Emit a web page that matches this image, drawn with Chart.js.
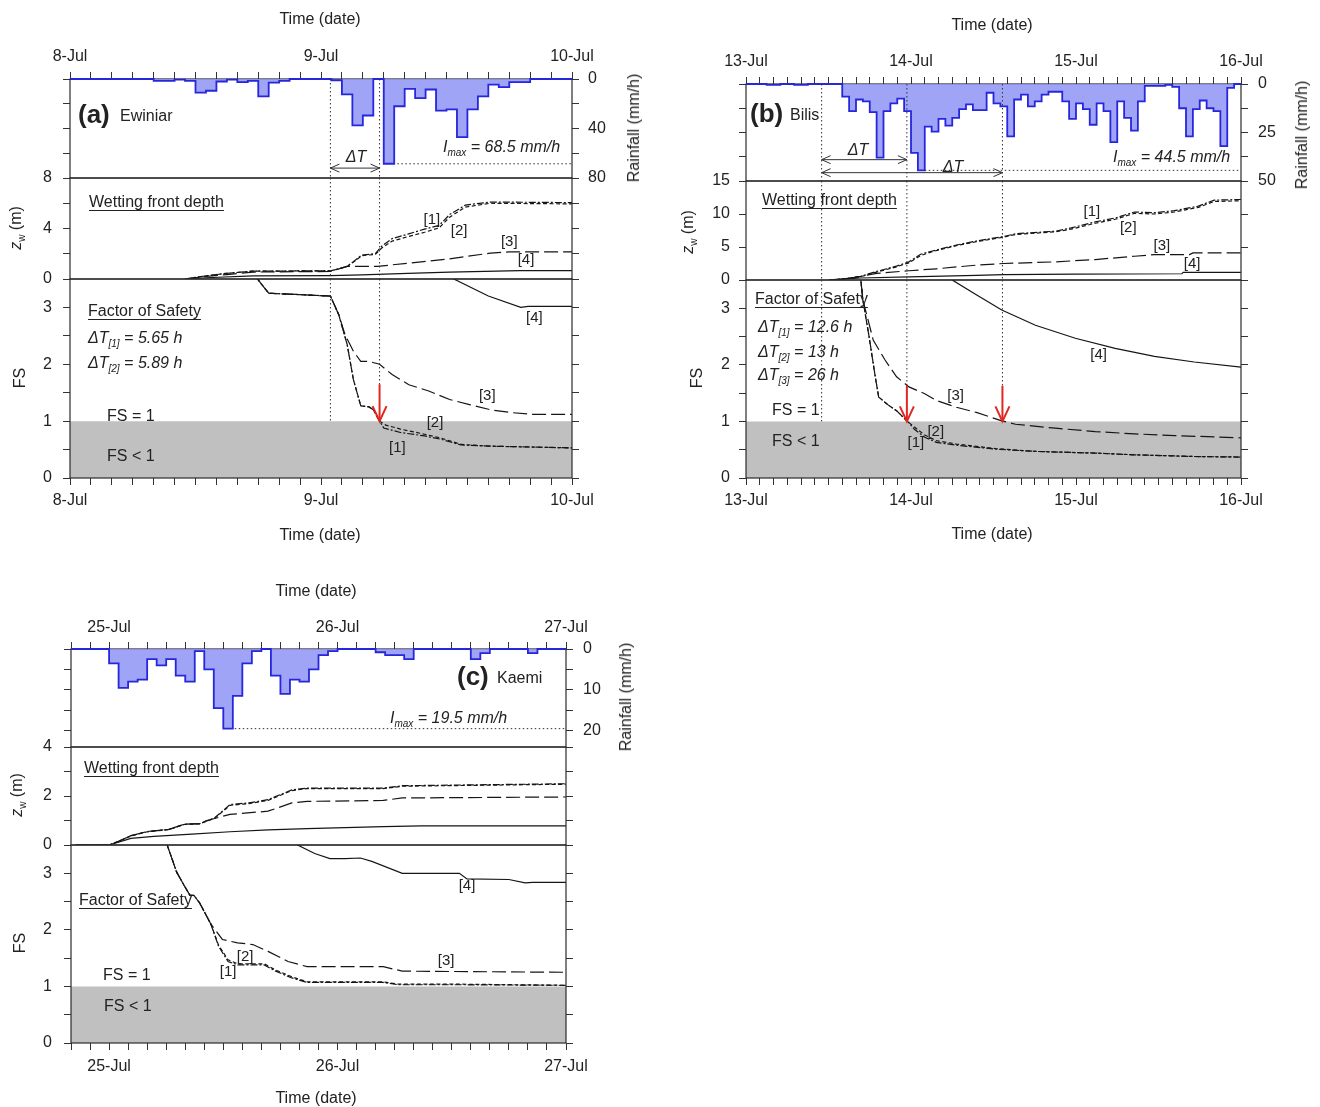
<!DOCTYPE html>
<html>
<head>
<meta charset="utf-8">
<title>Rainfall, wetting front depth and factor of safety</title>
<script src="https://cdn.jsdelivr.net/npm/chart.js@4.4.1/dist/chart.umd.min.js"></script>
<style>
  html, body { margin: 0; padding: 0; background: #fff; }
  body { position: relative; width: 1320px; height: 1107px; overflow: hidden; }
  canvas { position: absolute; }
  .txt { position: absolute; font: 16px "Liberation Sans", Arial, sans-serif; color: #222; white-space: nowrap; line-height: 1; }
  .txt sub { font-size: 10px; vertical-align: -4px; line-height: 0; }
  .it { font-style: italic; }
  .ul { text-decoration: underline; text-underline-offset: 3px; }
  .big { font-size: 26px; font-weight: bold; }
</style>
</head>
<body>
<script>
// ---------- data ----------
const daysA = ['8-Jul', '9-Jul', '10-Jul'];
const daysB = ['13-Jul', '14-Jul', '15-Jul', '16-Jul'];
const daysC = ['25-Jul', '26-Jul', '27-Jul'];

// hourly rainfall (mm/h); index 0 = first hour of the first day
const rainA = [0, 0, 0, 0, 0, 0, 0, 0, 1.5, 1.5, 0.5, 1.5, 11, 9.5, 2, 0.5, 2.5, 1.5, 14, 3, 1.5, 0, 0, 0,
               0, 1, 12.5, 37.5, 29.5, 0, 68.5, 22, 8, 15.5, 8.5, 25.5, 24.5, 47, 24.5, 14, 4.5, 6.5, 2.5, 2.5, 0, 0, 0, 0];
const rainB = [0, 0, 0, 0.5, 0.5, 0, 0, 0.5, 0.5, 0, 0, 0, 0, 0, 6.5, 14, 8, 9, 14.5, 38, 14, 10, 7.5, 14,
               35.5, 44.5, 22, 24.5, 18, 21.5, 17.5, 13, 10.5, 13.5, 13.5, 4.5, 10, 11.5, 27, 8, 5.5, 11.5, 9, 5.5, 4, 4, 9, 18,
               10, 13, 21, 10, 14, 30, 9, 17.5, 24, 9, 1, 1, 1, 0.5, 1.5, 12.5, 27, 13, 8.5, 12.5, 14, 32, 2, 0];
// panel (c) starts 4 h before 25-Jul
const rainStartC = -4;
const rainC = [0, 0, 0, 0,
               3.5, 9.5, 8, 7.5, 2.5, 4, 2.5, 6.5, 8, 0.5, 5, 14.5, 19.5, 11.5, 3.5, 0.5, 0, 6.5, 11, 7.5, 8, 5, 1.5, 0.5,
               0, 0, 0, 0, 0.8, 1.5, 1.5, 2.5, 0, 0, 0, 0, 0, 0, 2.5, 1, 0, 0, 0, 0, 1, 0, 0, 0];
const imaxA = 68.5, imaxB = 44.5, imaxC = 19.5;

// axis ticks
const rainTicksA = [0, 20, 40, 60, 80];        const rainLabelsA = ['0', '', '40', '', '80'];
const rainTicksB = [0, 12.5, 25, 37.5, 50];    const rainLabelsB = ['0', '', '25', '', '50'];
const rainTicksC = [0, 5, 10, 15, 20];         const rainLabelsC = ['0', '', '10', '', '20'];
const wetTicksA = [0, 2, 4, 6, 8];             const wetLabelsA = ['0', '', '4', '', '8'];
const wetTicksB = [0, 2.5, 5, 7.5, 10, 12.5, 15]; const wetLabelsB = ['0', '', '5', '', '10', '', '15'];
const wetTicksC = [0, 1, 2, 3, 4];             const wetLabelsC = ['0', '', '2', '', '4'];
const fsTicks = [0, 0.5, 1, 1.5, 2, 2.5, 3];   const fsLabels = ['0', '', '1', '', '2', '', '3'];
const fsLimit = 1;

// wetting front depth zw (m): [hour, depth]
const wetA1 = [[11,0],[13,0.25],[15,0.45],[17.5,0.62],[24.9,0.65],[25.7,0.8],[26.5,1.0],[27.3,1.5],[27.9,1.9],[29.2,2.0],[29.8,2.6],[30.8,3.2],[32.3,3.55],[33.9,3.95],[35.3,4.25],[36.3,5.1],[37.8,5.85],[40.2,6.1],[48,6.05]];
const wetA2 = [[11,0],[13,0.25],[15,0.45],[17.5,0.62],[24.9,0.65],[25.7,0.8],[26.5,1.0],[27.3,1.45],[27.9,1.85],[29.2,1.95],[29.8,2.45],[30.8,3.0],[32.3,3.35],[33.9,3.7],[35.3,4.05],[36.3,4.9],[37.8,5.7],[40.2,6.0],[48,5.95]];
const wetA3 = [[11,0],[13,0.2],[15,0.35],[17.5,0.55],[24.9,0.6],[26.5,1.0],[29.4,1.0],[32.3,1.25],[36.3,1.6],[40.2,2.05],[42,2.15],[48,2.15]];
const wetA4 = [[11,0],[13,0.1],[17.5,0.25],[24.9,0.27],[27.9,0.32],[32.3,0.45],[36.3,0.55],[43,0.67],[48,0.67]];
const wetB1 = [[12.1,0],[14.5,0.2],[16.7,0.56],[19,1.3],[21.9,2.1],[23.7,2.75],[25.4,3.9],[27.1,4.4],[30.6,5.3],[33.5,5.9],[37.5,6.6],[39.2,7.0],[45,7.4],[47.3,7.9],[50.8,8.8],[53.7,9.4],[56.5,10.3],[59.4,10.2],[62.3,10.5],[65.8,11.2],[68.1,12.1],[72,12.2]];
const wetB2 = [[12.1,0],[14.5,0.2],[16.7,0.5],[19,1.2],[21.9,2.0],[23.7,2.6],[25.4,3.7],[27.1,4.3],[30.6,5.2],[33.5,5.8],[37.5,6.5],[39.2,6.9],[45,7.3],[47.3,7.7],[50.8,8.6],[53.7,9.2],[56.5,10.1],[59.4,10.0],[62.3,10.3],[65.8,11.0],[68.1,11.9],[72,12.0]];
const wetB3 = [[12.1,0],[14.5,0.2],[16.7,0.56],[19,1.0],[23.7,1.4],[27.7,1.7],[33.5,2.25],[37.5,2.5],[45,2.75],[50.8,3.1],[56.5,3.6],[59.4,3.85],[64.5,3.85],[65,4.1],[72,4.1]];
const wetB4 = [[12.1,0],[14.5,0.15],[16.7,0.3],[23.7,0.46],[33.5,0.7],[37.5,0.8],[47.9,0.9],[63.4,0.95],[63.6,1.15],[72,1.15]];
const wetC1 = [[-3.5,0],[0,0],[1,0.15],[2.3,0.38],[3.9,0.54],[6.3,0.64],[7.9,0.85],[9.5,0.87],[11.1,1.11],[12.7,1.65],[14.7,1.72],[16.7,1.85],[19.2,2.25],[20.8,2.32],[28.8,2.32],[30.8,2.42],[48,2.5]];
const wetC2 = [[-3.5,0],[0,0],[1,0.15],[2.3,0.37],[3.9,0.53],[6.3,0.63],[7.9,0.84],[9.5,0.86],[11.1,1.09],[12.7,1.62],[14.7,1.69],[16.7,1.82],[19.2,2.22],[20.8,2.3],[28.8,2.3],[30.8,2.4],[48,2.48]];
const wetC3 = [[-3.5,0],[0,0],[1,0.15],[2.3,0.38],[3.9,0.54],[6.3,0.64],[7.9,0.85],[9.5,0.87],[10.3,1.0],[12.7,1.25],[16.7,1.38],[19.2,1.72],[20.8,1.78],[28.8,1.82],[30.8,1.92],[48,1.96]];
const wetC4 = [[-3.5,0],[0,0],[2.3,0.27],[4.7,0.35],[8.7,0.44],[12.7,0.54],[16.7,0.62],[20.8,0.67],[28.8,0.75],[32.8,0.78],[48,0.78]];

// factor of safety: [hour, FS]
const fsA1 = [[17.5,3.6],[19,3.25],[24.9,3.2],[25.7,2.87],[26.5,2.35],[27.1,1.73],[27.8,1.27],[28.6,1.25],[29.0,1.2],[29.6,1.0],[30.0,0.88],[31.6,0.8],[33.9,0.74],[35.5,0.68],[37.4,0.58],[40.2,0.56],[48,0.53]];
const fsA2 = [[17.5,3.6],[19,3.25],[24.9,3.2],[25.7,2.87],[26.5,2.35],[27.1,1.73],[27.8,1.27],[28.6,1.25],[29.0,1.2],[29.6,1.0],[30.2,0.93],[31.6,0.86],[33.9,0.77],[35.5,0.7],[37.4,0.59],[40.2,0.56],[48,0.53]];
const fsA3 = [[17.5,3.6],[19,3.25],[24.9,3.2],[25.7,2.87],[26.3,2.52],[27.1,2.23],[27.8,2.05],[28.6,2.05],[29.6,2.0],[30.8,1.82],[32.4,1.64],[34.3,1.53],[36.3,1.38],[38.2,1.29],[40.2,1.2],[42.2,1.15],[44.1,1.12],[48,1.12]];
const fsA4 = [[35.5,3.7],[36.7,3.5],[40,3.2],[43.1,3.0],[43.8,3.02],[48,3.02]];
const fsB1 = [[16.2,3.8],[16.7,3.5],[17.0,3.15],[17.9,2.5],[18.8,1.79],[19.3,1.43],[20.8,1.28],[21.9,1.19],[22.9,1.07],[23.5,1.0],[24.5,0.86],[26,0.72],[27.7,0.63],[30.6,0.58],[36.3,0.51],[42.1,0.47],[50.8,0.44],[56.5,0.41],[65.2,0.38],[72,0.37]];
const fsB2 = [[16.2,3.8],[16.7,3.5],[17.0,3.15],[17.9,2.5],[18.8,1.79],[19.3,1.43],[20.8,1.28],[21.9,1.19],[22.9,1.07],[23.5,1.0],[24.5,0.9],[26,0.76],[27.7,0.66],[30.6,0.6],[36.3,0.52],[42.1,0.47],[50.8,0.44],[56.5,0.41],[65.2,0.38],[72,0.37]];
const fsB3 = [[16.2,3.8],[16.7,3.5],[17.0,3.15],[18.5,2.44],[20.2,2.09],[21.9,1.79],[23.7,1.61],[26,1.49],[27.7,1.37],[30.6,1.25],[33.5,1.16],[37.2,1.01],[39.2,0.95],[45,0.88],[50.8,0.82],[56.5,0.78],[62.3,0.75],[72,0.71]];
const fsB4 = [[29.5,3.6],[30,3.5],[33.5,3.24],[37.2,2.97],[42.1,2.7],[47.9,2.47],[53.7,2.29],[59.4,2.15],[65.2,2.05],[72,1.96]];
const fsC1 = [[5.8,3.7],[6.1,3.5],[7.1,3.02],[7.9,2.78],[8.5,2.61],[8.9,2.61],[9.5,2.48],[10.7,2.1],[11.5,1.71],[12.5,1.44],[13.5,1.38],[16.3,1.38],[17.5,1.27],[19.2,1.15],[20.8,1.07],[28.8,1.07],[30.4,1.03],[36.8,1.03],[48,1.02]];
const fsC2 = [[5.8,3.7],[6.1,3.5],[7.1,3.02],[7.9,2.78],[8.5,2.61],[8.9,2.61],[9.5,2.48],[10.7,2.1],[11.5,1.73],[12.5,1.47],[13.5,1.4],[16.3,1.4],[17.5,1.29],[19.2,1.17],[20.8,1.08],[28.8,1.08],[30.4,1.04],[36.8,1.04],[48,1.02]];
const fsC3 = [[5.8,3.7],[6.1,3.5],[7.1,3.02],[7.9,2.78],[8.5,2.61],[8.9,2.61],[9.5,2.48],[10.7,2.1],[11.9,1.83],[13.5,1.77],[15.1,1.74],[16.7,1.62],[18.8,1.44],[20.8,1.35],[28.8,1.35],[30.8,1.27],[48,1.25]];
const fsC4 = [[19.3,3.6],[19.8,3.5],[21.6,3.35],[23.2,3.26],[24.8,3.26],[26.4,3.27],[27.6,3.21],[30.8,3.0],[36.8,3.0],[37.6,2.9],[42,2.89],[43.7,2.83],[44.5,2.84],[48,2.84]];

// event markers: [hour, FS where the dotted line stops]
const markA = [[24.9, 1.0], [29.6, 1.65]];
const markB = [[11.0, 1.0], [23.4, 1.63], [37.3, 1.63]];
const arrowA = [29.6];          // red arrows (FS drops to 1)
const arrowB = [23.4, 37.3];
const spanA = [[24.9, 29.6, 72]];                 // ΔT arrows: from, to, rainfall level
const spanB = [[11.0, 23.4, 39], [11.0, 37.3, 45.7]];
const imaxLineA = [31.3, 48];   // hours covered by the Imax dotted line
const imaxLineB = [26, 71.8];
const imaxLineC = [13.2, 48];

// curve tags [text, hour, value]
const tagsWetA = [['[1]', 34.6, 4.67], ['[2]', 37.2, 3.8], ['[3]', 42.0, 2.93], ['[4]', 43.6, 1.5]];
const tagsFsA = [['[4]', 44.4, 2.81], ['[3]', 39.9, 1.44], ['[2]', 34.9, 0.97], ['[1]', 31.3, 0.53]];
const tagsWetB = [['[1]', 50.3, 10.3], ['[2]', 55.6, 7.9], ['[3]', 60.5, 5.15], ['[4]', 64.9, 2.4]];
const tagsFsB = [['[4]', 51.3, 2.17], ['[3]', 30.5, 1.45], ['[2]', 27.6, 0.81], ['[1]', 24.7, 0.62]];
const tagsFsC = [['[4]', 37.6, 2.77], ['[3]', 35.4, 1.45], ['[2]', 14.3, 1.52], ['[1]', 12.5, 1.25]];

// ---------- drawing ----------
const FONT = '"Liberation Sans", Arial, sans-serif';
const INK = '#222';
const TICK = '#333';
const LINE = '#151515';
const DASH = [[7, 2, 2, 2], [4, 2.5], [14, 5], []];
const M = 14; // spare canvas margin for labels at plot edges

Chart.defaults.font.family = FONT;

function makeCanvas(left, top, width, height) {
  const c = document.createElement('canvas');
  c.width = width; c.height = height;
  c.style.left = left + 'px'; c.style.top = top + 'px';
  c.style.width = width + 'px'; c.style.height = height + 'px';
  document.body.appendChild(c);
  return c;
}

function xAxis(pos, min, max, days, show, pad, height) {
  return {
    type: 'linear', position: pos, min, max, display: show,
    grid: {drawOnChartArea: false, tickLength: 7, tickColor: TICK, tickWidth: 1},
    border: {display: false},
    ticks: {autoSkip: false, maxRotation: 0, padding: pad, color: INK, font: {size: 16},
      callback: v => (v >= 0 && v % 24 === 0) ? days[v / 24] : ''},
    afterBuildTicks: ax => { const t = []; for (let h = min; h <= max; h += 2) t.push({value: h}); ax.ticks = t; },
    afterFit: ax => { ax.height = height; ax.paddingLeft = 0; ax.paddingRight = 0; }
  };
}

function yAxis(pos, min, max, ticks, labels, reverse, pad, width) {
  return {
    type: 'linear', position: pos, min, max, reverse,
    grid: {drawOnChartArea: false, tickLength: 7, tickColor: TICK, tickWidth: 1},
    border: {display: false},
    ticks: {padding: pad, color: INK, font: {size: 16},
      callback: (v, i) => labels ? labels[i] : ''},
    afterBuildTicks: ax => { ax.ticks = ticks.map(v => ({value: v})); },
    afterFit: ax => { ax.width = width; ax.paddingTop = 0; ax.paddingBottom = 0; }
  };
}

function curve(pts, k) {
  return {data: pts.map(p => ({x: p[0], y: p[1]})), borderColor: LINE, borderWidth: 1.2,
    borderDash: DASH[k], pointRadius: 0, fill: false, tension: 0, order: 0};
}

function rainSet(values, start) {
  const pts = values.map((v, i) => ({x: start + i, y: v}));
  pts.push({x: start + values.length, y: 0});
  return {data: pts, stepped: true, borderColor: '#2626dc', borderWidth: 1.8, clip: 3,
    backgroundColor: 'rgba(142,148,244,0.85)', fill: 'origin', pointRadius: 0};
}

function bandSet(min, max) {
  return {data: [{x: min, y: fsLimit}, {x: max, y: fsLimit}], borderWidth: 0, borderColor: 'rgba(0,0,0,0)',
    backgroundColor: '#c0c0c0', fill: 'origin', pointRadius: 0, order: 5};
}

function framePlugin(hook) {
  return {id: 'frame', [hook](chart) {
    const a = chart.chartArea, ctx = chart.ctx;
    ctx.save(); ctx.strokeStyle = '#2b2b2b'; ctx.lineWidth = 1.2;
    ctx.strokeRect(a.left, a.top, a.right - a.left, a.bottom - a.top); ctx.restore();
  }};
}

function decoPlugin(draw) {
  return {id: 'deco', afterDraw(chart) {
    const {ctx, chartArea, scales} = chart;
    ctx.save(); draw(ctx, scales.x, scales.y, chartArea); ctx.restore();
  }};
}

function seg(ctx, x0, y0, x1, y1) { ctx.beginPath(); ctx.moveTo(x0, y0); ctx.lineTo(x1, y1); ctx.stroke(); }

function dotted(ctx) { ctx.strokeStyle = '#333'; ctx.lineWidth = 1; ctx.setLineDash([1.5, 2.5]); }

function dblArrow(ctx, x0, x1, y) {
  ctx.setLineDash([]); ctx.strokeStyle = '#333'; ctx.lineWidth = 1;
  seg(ctx, x0, y, x1, y);
  ctx.beginPath(); ctx.moveTo(x0 + 9, y - 4); ctx.lineTo(x0, y); ctx.lineTo(x0 + 9, y + 4); ctx.stroke();
  ctx.beginPath(); ctx.moveTo(x1 - 9, y - 4); ctx.lineTo(x1, y); ctx.lineTo(x1 - 9, y + 4); ctx.stroke();
}

function redArrow(ctx, x, y0, y1) {
  ctx.setLineDash([]); ctx.strokeStyle = '#e3261f'; ctx.lineWidth = 2;
  seg(ctx, x, y0, x, y1);
  ctx.beginPath(); ctx.moveTo(x - 7, y1 - 15); ctx.lineTo(x, y1); ctx.lineTo(x + 7, y1 - 15); ctx.stroke();
}

function tags(ctx, x, y, list) {
  ctx.fillStyle = INK; ctx.font = '15px ' + FONT; ctx.textAlign = 'center'; ctx.textBaseline = 'middle';
  list.forEach(t => ctx.fillText(t[0], x.getPixelForValue(t[1]), y.getPixelForValue(t[2])));
}

function chartOn(g, top, bottom, padding, scales, datasets, hook, draw) {
  const c = makeCanvas(g.x0, top, g.x1 - g.x0, bottom - top);
  return new Chart(c, {
    type: 'line',
    data: {datasets},
    options: {
      responsive: false, animation: false, events: [], devicePixelRatio: 1,
      layout: {padding},
      plugins: {legend: {display: false}, tooltip: {enabled: false}},
      scales
    },
    plugins: [framePlugin(hook), decoPlugin(draw)]
  });
}

function panel(g, p) {
  const lw = g.L - g.x0, rw = g.x1 - g.R;
  const marks = p.marks || [];
  // rainfall (reversed axis on the right)
  chartOn(g, g.top, g.wetT + M, {top: 0, bottom: M, left: 0, right: 0}, {
    x: xAxis('top', p.xMin, p.xMax, p.days, true, g.xPadTop, g.rainT - g.top),
    y: yAxis('right', 0, p.rainMax, p.rainTicks, p.rainLabels, true, g.rainPad, rw),
    y2: yAxis('left', 0, p.rainMax, p.rainTicks, null, true, 0, lw)
  }, [rainSet(p.rain, p.rainStart)], 'beforeDatasetsDraw', (ctx, x, y, a) => {
    dotted(ctx);
    marks.forEach(m => { const px = x.getPixelForValue(m[0]); seg(ctx, px, y.getPixelForValue(0), px, a.bottom); });
    const iy = y.getPixelForValue(p.imax);
    seg(ctx, x.getPixelForValue(p.imaxLine[0]), iy, x.getPixelForValue(p.imaxLine[1]), iy);
    (p.spans || []).forEach(s => dblArrow(ctx, x.getPixelForValue(s[0]), x.getPixelForValue(s[1]), y.getPixelForValue(s[2])));
  });
  // wetting front depth
  chartOn(g, g.wetT - M, g.fsT + M, {top: M, bottom: M, left: 0, right: 0}, {
    x: xAxis('bottom', p.xMin, p.xMax, p.days, false, 0, 0),
    y: yAxis('left', 0, p.wetMax, p.wetTicks, p.wetLabels, false, g.yPad, lw),
    y2: yAxis('right', 0, p.wetMax, p.wetTicks, null, false, 0, rw)
  }, p.wet.map((c, k) => curve(c, k)), 'afterDatasetsDraw', (ctx, x, y, a) => {
    dotted(ctx);
    marks.forEach(m => { const px = x.getPixelForValue(m[0]); seg(ctx, px, a.top, px, a.bottom); });
    tags(ctx, x, y, p.wetTags || []);
  });
  // factor of safety
  chartOn(g, g.fsT - M, g.bottom, {top: M, bottom: 0, left: 0, right: 0}, {
    x: xAxis('bottom', p.xMin, p.xMax, p.days, true, g.xPadBot, g.bottom - g.fsB),
    y: yAxis('left', 0, 3.5, fsTicks, fsLabels, false, g.yPad, lw),
    y2: yAxis('right', 0, 3.5, fsTicks, null, false, 0, rw)
  }, p.fs.map((c, k) => curve(c, k)).concat([bandSet(p.xMin, p.xMax)]), 'afterDatasetsDraw', (ctx, x, y, a) => {
    dotted(ctx);
    marks.forEach(m => { const px = x.getPixelForValue(m[0]); seg(ctx, px, a.top, px, y.getPixelForValue(m[1])); });
    (p.arrows || []).forEach(h => redArrow(ctx, x.getPixelForValue(h), y.getPixelForValue(p.arrowTop), y.getPixelForValue(fsLimit)));
    tags(ctx, x, y, p.fsTags || []);
  });
}

const geoA = {x0: 0, x1: 660, L: 70, R: 572, top: 0, rainT: 79, wetT: 178, fsT: 279, fsB: 478, bottom: 552, rainPad: 9, yPad: 11, xPadTop: 6, xPadBot: 6};
const geoB = {x0: 660, x1: 1320, L: 746, R: 1241, top: 0, rainT: 84, wetT: 181, fsT: 280, fsB: 478, bottom: 552, rainPad: 10, yPad: 9, xPadTop: 6, xPadBot: 6};
const geoC = {x0: 0, x1: 660, L: 71, R: 566, top: 572, rainT: 649, wetT: 747, fsT: 845, fsB: 1043, bottom: 1107, rainPad: 10, yPad: 12, xPadTop: 5, xPadBot: 7};

panel(geoA, {xMin: 0, xMax: 48, days: daysA, rain: rainA, rainStart: 0, rainMax: 80, rainTicks: rainTicksA, rainLabels: rainLabelsA,
  imax: imaxA, imaxLine: imaxLineA, wetMax: 8, wetTicks: wetTicksA, wetLabels: wetLabelsA,
  wet: [wetA1, wetA2, wetA3, wetA4], fs: [fsA1, fsA2, fsA3, fsA4], marks: markA, arrows: arrowA, arrowTop: 1.65, spans: spanA,
  wetTags: tagsWetA, fsTags: tagsFsA});
panel(geoB, {xMin: 0, xMax: 72, days: daysB, rain: rainB, rainStart: 0, rainMax: 50, rainTicks: rainTicksB, rainLabels: rainLabelsB,
  imax: imaxB, imaxLine: imaxLineB, wetMax: 15, wetTicks: wetTicksB, wetLabels: wetLabelsB,
  wet: [wetB1, wetB2, wetB3, wetB4], fs: [fsB1, fsB2, fsB3, fsB4], marks: markB, arrows: arrowB, arrowTop: 1.63, spans: spanB,
  wetTags: tagsWetB, fsTags: tagsFsB});
panel(geoC, {xMin: -4, xMax: 48, days: daysC, rain: rainC, rainStart: rainStartC, rainMax: 24, rainTicks: rainTicksC, rainLabels: rainLabelsC,
  imax: imaxC, imaxLine: imaxLineC, wetMax: 4, wetTicks: wetTicksC, wetLabels: wetLabelsC,
  wet: [wetC1, wetC2, wetC3, wetC4], fs: [fsC1, fsC2, fsC3, fsC4], fsTags: tagsFsC});

// ---------- text ----------
function T(html, x, y, mode, cls) {
  const d = document.createElement('div');
  d.className = 'txt' + (cls ? ' ' + cls : '');
  d.innerHTML = html;
  d.style.left = x + 'px'; d.style.top = y + 'px';
  d.style.transform = mode === 'c' ? 'translate(-50%,-50%)' : mode === 'r' ? 'translate(-50%,-50%) rotate(-90deg)' : 'translate(0,-50%)';
  document.body.appendChild(d);
}
const zw = '<i>z</i><sub>w</sub> (m)';

T('Time (date)', 320, 19, 'c'); T('Time (date)', 320, 535, 'c');
T('Rainfall (mm/h)', 634, 128, 'r'); T(zw, 16, 228, 'r'); T('FS', 20, 378, 'r');
T('(a)', 78, 114, 'l', 'big'); T('Ewiniar', 120, 116, 'l');
T('Wetting front depth', 89, 202, 'l', 'ul'); T('Factor of Safety', 88, 311, 'l', 'ul');
T('ΔT<sub>[1]</sub> = 5.65 h', 88, 338, 'l', 'it'); T('ΔT<sub>[2]</sub> = 5.89 h', 88, 363, 'l', 'it');
T('FS = 1', 107, 416, 'l'); T('FS &lt; 1', 107, 456, 'l');
T('I<sub>max</sub> = 68.5 mm/h', 443, 147, 'l', 'it'); T('ΔT', 356, 157, 'c', 'it');

T('Time (date)', 992, 25, 'c'); T('Time (date)', 992, 534, 'c');
T('Rainfall (mm/h)', 1302, 135, 'r'); T(zw, 688, 232, 'r'); T('FS', 697, 378, 'r');
T('(b)', 750, 113, 'l', 'big'); T('Bilis', 790, 115, 'l');
T('Wetting front depth', 762, 200, 'l', 'ul'); T('Factor of Safety', 755, 299, 'l', 'ul');
T('ΔT<sub>[1]</sub> = 12.6 h', 758, 327, 'l', 'it'); T('ΔT<sub>[2]</sub> = 13 h', 758, 352, 'l', 'it'); T('ΔT<sub>[3]</sub> = 26 h', 758, 375, 'l', 'it');
T('FS = 1', 772, 410, 'l'); T('FS &lt; 1', 772, 441, 'l');
T('I<sub>max</sub> = 44.5 mm/h', 1113, 157, 'l', 'it'); T('ΔT', 858, 150, 'c', 'it'); T('ΔT', 953, 167, 'c', 'it');

T('Time (date)', 316, 591, 'c'); T('Time (date)', 316, 1098, 'c');
T('Rainfall (mm/h)', 626, 697, 'r'); T(zw, 17, 795, 'r'); T('FS', 20, 943, 'r');
T('(c)', 457, 676, 'l', 'big'); T('Kaemi', 497, 678, 'l');
T('Wetting front depth', 84, 768, 'l', 'ul'); T('Factor of Safety', 79, 900, 'l', 'ul');
T('FS = 1', 103, 975, 'l'); T('FS &lt; 1', 104, 1006, 'l');
T('I<sub>max</sub> = 19.5 mm/h', 390, 718, 'l', 'it');
</script>
</body>
</html>
